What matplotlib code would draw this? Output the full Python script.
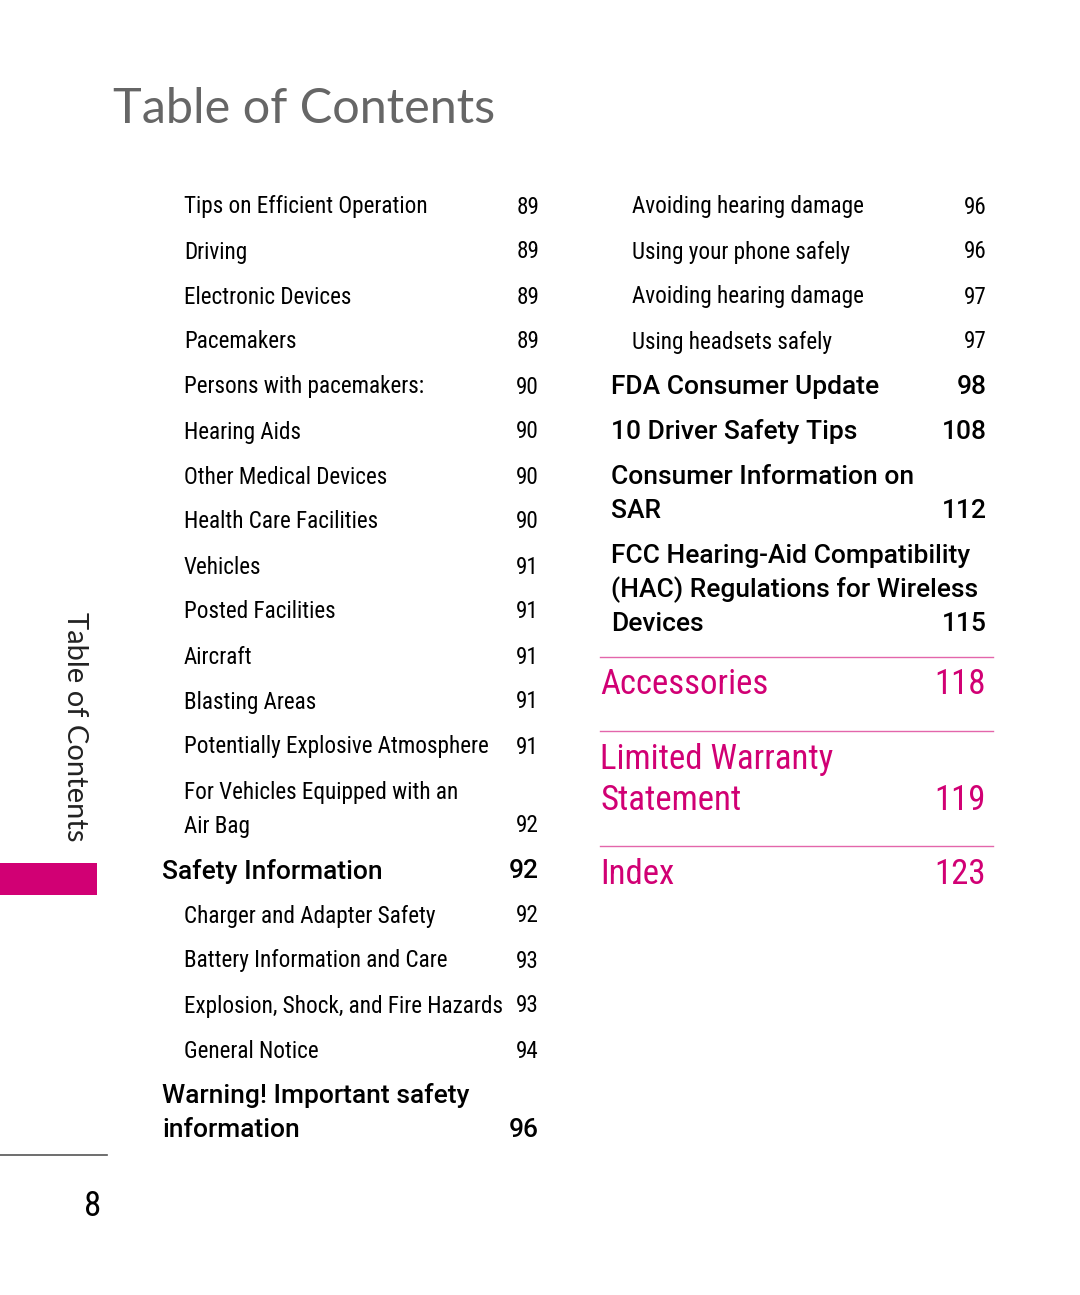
import matplotlib.pyplot as plt
from matplotlib import font_manager
from matplotlib.patches import Rectangle

# page content
title = 'Table of Contents'
side_label = 'Table of Contents'
page_no = '8'

left_labels = ['Tips on Efficient Operation', 'Driving', 'Electronic Devices', 'Pacemakers',
               'Persons with pacemakers:', 'Hearing Aids', 'Other Medical Devices',
               'Health Care Facilities', 'Vehicles', 'Posted Facilities', 'Aircraft',
               'Blasting Areas', 'Potentially Explosive Atmosphere',
               'For Vehicles Equipped with an\nAir Bag', 'Safety Information',
               'Charger and Adapter Safety', 'Battery Information and Care',
               'Explosion, Shock, and Fire Hazards', 'General Notice',
               'Warning! Important safety\ninformation']
left_pages = ['89', '89', '89', '89', '90', '90', '90', '90', '91', '91', '91', '91', '91',
              '92', '92', '92', '93', '93', '94', '96']
left_levels = [2] * 14 + [1] + [2] * 4 + [1]

right_labels = ['Avoiding hearing damage', 'Using your phone safely', 'Avoiding hearing damage',
                'Using headsets safely', 'FDA Consumer Update', '10 Driver Safety Tips',
                'Consumer Information on\nSAR',
                'FCC Hearing-Aid Compatibility\n(HAC) Regulations for Wireless\nDevices']
right_pages = ['96', '96', '97', '97', '98', '108', '112', '115']
right_levels = [2, 2, 2, 2, 1, 1, 1, 1]

chapter_labels = ['Accessories', 'Limited Warranty\nStatement', 'Index']
chapter_pages = ['118', '119', '123']

PINK = '#d10074'
GREY = '#666666'


def pick_family(options):
    # first installed family of the list
    for fam in options:
        try:
            font_manager.findfont(font_manager.FontProperties(family=fam), fallback_to_default=False)
            return fam
        except ValueError:
            pass
    return 'DejaVu Sans'


BODY = [pick_family(['Roboto Condensed', 'Liberation Sans Narrow', 'Roboto']), 'DejaVu Sans']
HEAD = ['Roboto', 'DejaVu Sans']

fig = plt.figure(figsize=(10.8, 12.95), dpi=100)
ax = fig.add_axes([0, 0, 1, 1])
ax.set_xlim(0, 1080)
ax.set_ylim(1295, 0)
ax.axis('off')
renderer = fig.canvas.get_renderer()


def fit_size(sample, width_px, max_size, **kw):
    t = ax.text(0, 0, sample, fontsize=20, **kw)
    w = t.get_window_extent(renderer).width
    t.remove()
    return min(max_size, 20 * width_px / w)


sub_size = fit_size('Potentially Explosive Atmosphere', 304, 17.5, family=BODY)
head_size = fit_size('FDA Consumer Update', 269, 20.5, family=HEAD, fontweight='medium')
chap_size = min(25, 1.12 * fit_size('Accessories', 154, 26, family=BODY))


def draw_column(labels, pages, levels, x_sub, x_head, x_num, y):
    for lab, pg, lvl in zip(labels, pages, levels):
        lines = lab.split('\n')
        if lvl == 1:
            kw = dict(fontsize=head_size, fontweight='medium', color='black', family=HEAD)
            xt = x_head
        else:
            kw = dict(fontsize=sub_size, color='black', family=BODY)
            xt = x_sub
        for i, ln in enumerate(lines):
            ax.text(xt, y + i * 34, ln, ha='left', va='center', **kw)
        ax.text(x_num, y + (len(lines) - 1) * 34, pg, ha='right', va='center', **kw)
        y += (len(lines) - 1) * 34 + 45
    return y


draw_column(left_labels, left_pages, left_levels, 184, 162, 539, 207)
y_end = draw_column(right_labels, right_pages, right_levels, 632, 611, 987, 207)

# pink chapter entries, each preceded by a rule
y_line = y_end - 12
for lab, pg in zip(chapter_labels, chapter_pages):
    ax.plot([600, 993], [y_line, y_line], color=PINK, lw=1, alpha=0.6)
    y = y_line + 28
    lines = lab.split('\n')
    for i, ln in enumerate(lines):
        ax.text(600, y + i * 41, ln, ha='left', va='center', fontsize=chap_size, color=PINK, family=BODY)
    ax.text(986, y + (len(lines) - 1) * 41, pg, ha='right', va='center', fontsize=chap_size,
            color=PINK, family=BODY)
    y_line = y + (len(lines) - 1) * 41 + 46

# title and side tab
ax.text(113, 109, title, ha='left', va='center', fontsize=35, color=GREY, family=['Lato', 'DejaVu Sans'])
ax.text(75, 612, side_label, ha='center', va='top', rotation=-90, fontsize=21, color='#222222',
        family=['Lato', 'DejaVu Sans'])
ax.add_patch(Rectangle((0, 863), 97, 32, color=PINK, lw=0))
ax.plot([0, 107], [1155, 1155], color='#555555', lw=1.2)
ax.text(93, 1207, page_no, ha='center', va='center', fontsize=25, color='black', family=BODY)

fig.savefig('out.png', dpi=100)
